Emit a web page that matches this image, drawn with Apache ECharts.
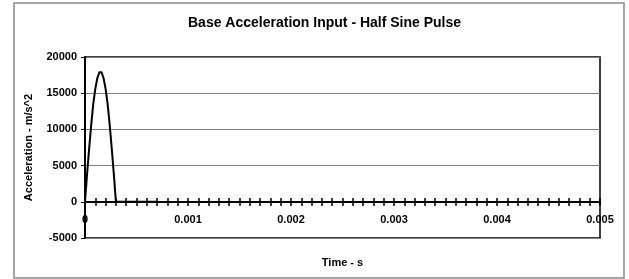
<!DOCTYPE html>
<html>
<head>
<meta charset="utf-8">
<script src="https://cdn.jsdelivr.net/npm/echarts@6/dist/echarts.min.js"></script>
<style>
    html, body { margin: 0; padding: 0; background: #fff; }
    #main { width: 629px; height: 279px; }
</style>
</head>
<body>
<div id="main"></div>
<script>
// time (s) and acceleration (m/s^2)
var times = [0, 0.00002, 0.00004, 0.00006, 0.00008, 0.0001, 0.00012, 0.00014, 0.00016,
    0.00018, 0.0002, 0.00022, 0.00024, 0.00026, 0.00028, 0.0003, 0.0004, 0.0005, 0.0006, 0.0007];
var accel = [0, 3800, 7300, 10600, 13500, 15600, 17100, 17900, 17900,
    17100, 15600, 13500, 10600, 7300, 3800, 0, 0, 0, 0, 0];
var yTicks = [-5000, 0, 5000, 10000, 15000, 20000];

var data = [];
for (var i = 0; i < times.length; i++) {
    data.push([times[i], accel[i]]);
}

var font = 'Liberation Sans, Arial, sans-serif';
var labelStyle = { fontFamily: font, fontSize: 11, fontWeight: 'bold', color: '#000' };
var tickStyle = { color: '#000', width: 1.5 };

// grids 1 and 2 end at the zero line, so their axes sit on it
var zeroGrid = { left: 85, right: 29, top: 57, bottom: 77, outerBoundsMode: 'none' };

var Chart = echarts.init(document.getElementById('main'));
var option = {
    animation: false,
    backgroundColor: '#fff',
    title: {
        text: 'Base Acceleration Input - Half Sine Pulse',
        left: 183,
        top: 11,
        textStyle: { fontFamily: font, fontSize: 14, fontWeight: 'bold', color: '#000' }
    },
    graphic: [{
        type: 'rect',
        shape: { x: 14, y: 3, width: 610, height: 275 },
        style: { fill: 'none', stroke: '#888', lineWidth: 1.5 },
        silent: true
    }],
    grid: [{
        left: 85, right: 29, top: 57, bottom: 41,
        outerBoundsMode: 'none',
        show: true,
        borderColor: '#000',
        borderWidth: 1.5
    }, zeroGrid, echarts.util.clone(zeroGrid)],
    xAxis: [{
        type: 'value',
        gridIndex: 0,
        min: 0,
        max: 0.005,
        interval: 0.001,
        name: 'Time - s',
        nameLocation: 'middle',
        nameGap: 19,
        nameTextStyle: labelStyle,
        axisLine: { show: false, onZero: false },
        axisTick: { show: false },
        axisLabel: { show: false },
        splitLine: { show: false }
    }, {
        type: 'value',
        gridIndex: 1,
        min: 0,
        max: 0.005,
        interval: 0.001,
        axisLine: { show: true, onZero: false, lineStyle: { color: '#000', width: 2 } },
        axisTick: { show: true, length: 4, lineStyle: tickStyle },
        minorTick: { show: true, splitNumber: 10, length: 4, lineStyle: tickStyle },
        axisLabel: {
            margin: 12,
            fontFamily: font, fontSize: 11, fontWeight: 'bold', color: '#000',
            formatter: function (v) { return v === 0 ? '0' : v.toFixed(3); }
        },
        splitLine: { show: false }
    }, {
        type: 'value',
        gridIndex: 2,
        min: 0,
        max: 0.005,
        interval: 0.001,
        axisLine: { show: false, onZero: false },
        axisTick: { show: true, inside: true, length: 4, lineStyle: tickStyle },
        minorTick: { show: true, splitNumber: 10, length: 4, lineStyle: tickStyle },
        axisLabel: { show: false },
        splitLine: { show: false }
    }],
    yAxis: [{
        type: 'value',
        gridIndex: 0,
        min: yTicks[0],
        max: yTicks[yTicks.length - 1],
        interval: 5000,
        name: 'Acceleration - m/s^2',
        nameLocation: 'middle',
        nameGap: 51,
        nameTextStyle: labelStyle,
        axisLine: { show: true, onZero: false, lineStyle: { color: '#000', width: 2 } },
        axisTick: { show: true, length: 4, lineStyle: { color: '#000' } },
        axisLabel: {
            margin: 8, fontFamily: font, fontSize: 11, fontWeight: 'bold', color: '#000',
            formatter: function (v) { return String(v); }
        },
        splitLine: { show: true, lineStyle: { color: '#808080', width: 1.2 } }
    }, {
        type: 'value', gridIndex: 1, min: 0, max: 20000, show: false
    }, {
        type: 'value', gridIndex: 2, min: 0, max: 20000, show: false
    }],
    series: [{
        type: 'line',
        xAxisIndex: 0,
        yAxisIndex: 0,
        data: data,
        showSymbol: false,
        lineStyle: { color: '#000', width: 2 }
    }]
};
Chart.setOption(option);
</script>
</body>
</html>
